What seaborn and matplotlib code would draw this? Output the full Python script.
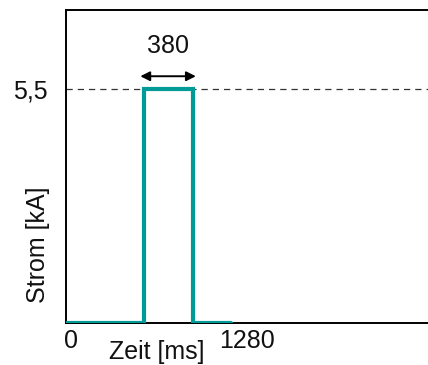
import matplotlib
matplotlib.use("Agg")
import matplotlib.pyplot as plt
import matplotlib.transforms as mtransforms
import seaborn as sns
import pandas as pd

# Data
time_ms = [0, 600, 600, 980, 980, 1280]
current_kA = [0, 0, 5.5, 5.5, 0, 0]
peak_level = 5.5
pulse_start = 600
pulse_width = 380
x_tick_values = [0, 1280]
x_tick_labels = ["0", "1280"]
y_tick_label = "5,5"

sns.set_theme(style="white")
plt.rcParams['font.family'] = ['Liberation Sans', 'DejaVu Sans']

fig = plt.figure(figsize=(4.28, 3.65), dpi=100)
ax = fig.add_axes([66/428, 42/365, (428-66)/428 + 0.01, (323-10)/365])

df = pd.DataFrame({"t": time_ms, "i": current_kA})
sns.lineplot(data=df, x="t", y="i", sort=False, estimator=None, errorbar=None, ax=ax,
             color="#009b96", linewidth=3.0, solid_joinstyle="miter", zorder=3)

ax.set_xlim(0, 1280 * (428 - 67) / 163)
ax.set_ylim(0, 5.5 * 313 / 234)

ax.axhline(peak_level, color="#333333", linewidth=0.9, linestyle=(0, (5, 4)), zorder=1)

ax.annotate("", xy=(pulse_start - 25, 5.80), xytext=(pulse_start + pulse_width + 25, 5.80),
            arrowprops=dict(arrowstyle="<|-|>", color="black", lw=1.4,
                            mutation_scale=14, shrinkA=0, shrinkB=0))
ax.text(pulse_start + pulse_width / 2, 6.5, str(pulse_width), ha="center", va="center",
        fontsize=18, color="#111111")

ax.set_xticks(x_tick_values)
ax.set_xticklabels(x_tick_labels, fontsize=18, color="#111111")
ax.set_yticks([peak_level])
ax.set_yticklabels([y_tick_label], fontsize=18, color="#111111")
ax.tick_params(axis="x", length=0, pad=4)
ax.tick_params(axis="y", length=0, pad=13)
ax.set_xlabel("")
ax.set_ylabel("")

shifts = [5, 16]
for lbl, dx in zip(ax.get_xticklabels(), shifts):
    lbl.set_transform(lbl.get_transform() +
                      mtransforms.ScaledTranslation(dx / 100, 0, fig.dpi_scale_trans))

for s in ["left", "bottom", "top"]:
    ax.spines[s].set_visible(True)
    ax.spines[s].set_color("black")
    ax.spines[s].set_linewidth(1.4)
ax.spines["right"].set_visible(False)

fig.text(157/428, 1 - 352/365, "Zeit [ms]", ha="center", va="center", fontsize=18, color="#111111")
fig.text(38/428, 1 - 245/365, "Strom [kA]", ha="center", va="center", rotation=90,
         fontsize=18, color="#111111")

fig.savefig("out.png", dpi=100)
